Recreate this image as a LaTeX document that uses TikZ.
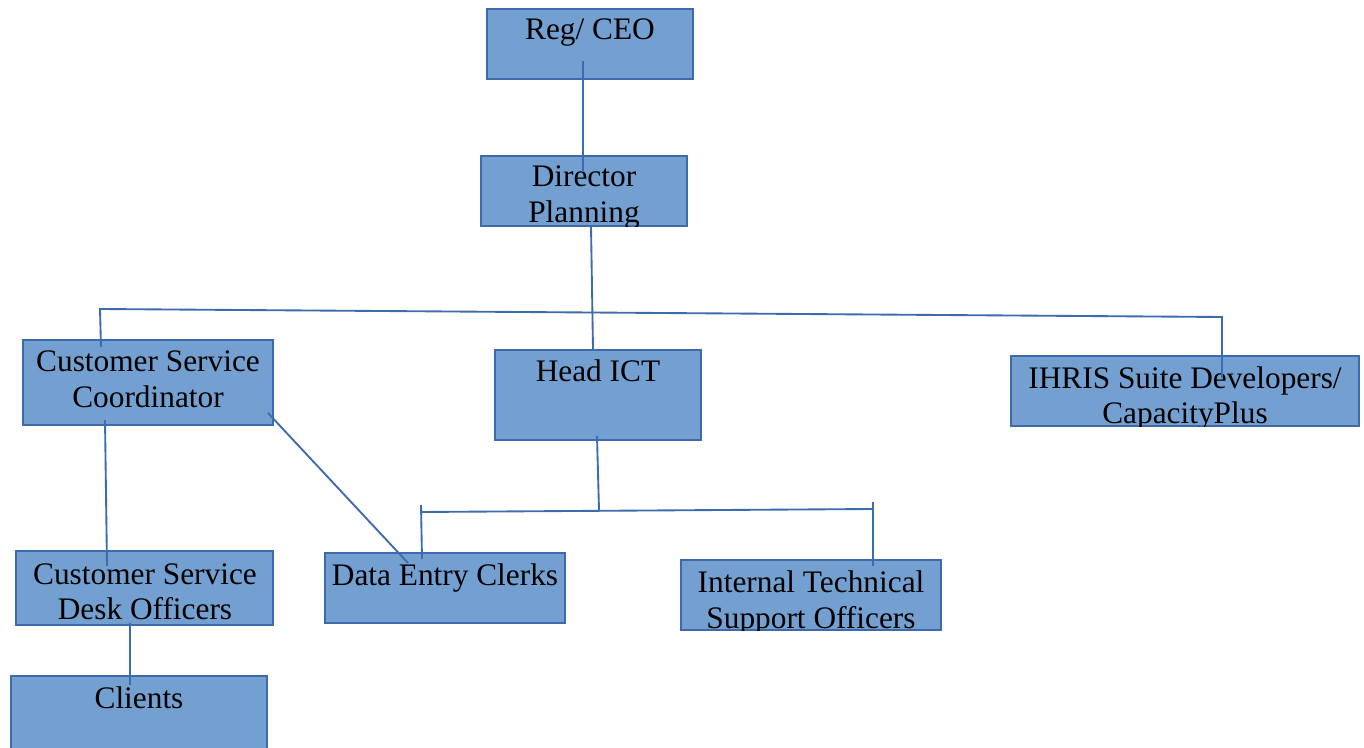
\documentclass[tikz,border=0pt]{standalone}
\usepackage{fontspec}
\setmainfont{Liberation Serif}
\usetikzlibrary{fit}
\definecolor{boxfill}{RGB}{115,160,208}
\definecolor{boxline}{RGB}{60,106,170}
\definecolor{connc}{RGB}{60,107,174}
\begin{document}
\begin{tikzpicture}[x=0.75pt,y=-0.75pt,
  box/.style={draw=boxline, fill=boxfill, line width=1.4pt, inner sep=0pt},
  lbl/.style={anchor=base, inner sep=0pt, text=black, font=\fontsize{23.5}{27}\selectfont},
  conn/.style={draw=connc, line width=1.4pt}]
\useasboundingbox (0,0) rectangle (1364,748);
\fill[white] (0,0) rectangle (1364,748);
% boxes
\node[box, fit={(487,9) (693,79)}] (ceo) {};
\node[box, fit={(481,156) (687,226)}] (dp) {};
\node[box, fit={(23,340) (273,425)}] (csc) {};
\node[box, fit={(495,350) (701,440)}] (ict) {};
\node[box, fit={(1011,356) (1359,426)}] (ihris) {};
\node[box, fit={(16,551) (273,625)}] (desk) {};
\node[box, fit={(325,553) (565,623)}] (dec) {};
\node[box, fit={(681,560) (941,630)}] (its) {};
\node[box, fit={(11,676) (267,760)}] (cli) {};
% texts
\node[lbl] (ceo-t) at (590,40) {Reg/ CEO};
\begin{scope}
  \clip (dp.south west) rectangle (dp.north east);
  \node[lbl] (dp-t1) at (584,187) {Director};
  \node[lbl] (dp-t2) at (584,223) {Planning};
\end{scope}
\node[lbl] (csc-t1) at (148,372) {Customer Service};
\node[lbl] (csc-t2) at (148,408) {Coordinator};
\node[lbl] (ict-t) at (598,382) {Head ICT};
\begin{scope}
  \clip (ihris.south west) rectangle (ihris.north east);
  \node[lbl] (ihris-t1) at (1185,389) {IHRIS Suite Developers/};
  \node[lbl] (ihris-t2) at (1185,424) {CapacityPlus};
\end{scope}
\node[lbl] (desk-t1) at (145,584) {Customer Service};
\node[lbl] (desk-t2) at (145,619) {Desk Officers};
\node[lbl] (dec-t) at (445,585) {Data Entry Clerks};
\begin{scope}
  \clip (its.south west) rectangle (its.north east);
  \node[lbl] (its-t1) at (811,592) {Internal Technical};
  \node[lbl] (its-t2) at (811,628) {Support Officers};
\end{scope}
\node[lbl] (cli-t) at (139,708) {Clients};
% connector points
\coordinate (a1) at (583,61);
\coordinate (a2) at (583,172);
\coordinate (b1) at (591,226);
\coordinate (b2) at (593,349);
\coordinate (bL) at (100,309);
\coordinate (bR) at (1222,317);
\coordinate (bLd) at (101,347);
\coordinate (bRd) at (1222,378);
\coordinate (c1) at (597,436);
\coordinate (c2) at (599,510);
\coordinate (b2L) at (421,512);
\coordinate (b2R) at (873,509);
\coordinate (dL1) at (421,505);
\coordinate (dL2) at (422,559);
\coordinate (dR1) at (873,502);
\coordinate (dR2) at (873,566);
\coordinate (e1) at (105,420);
\coordinate (e2) at (107,566);
\coordinate (f1) at (268,413);
\coordinate (f2) at (408,563);
\coordinate (g1) at (130,623);
\coordinate (g2) at (130,685);
% connectors
\draw[conn] (a1) -- (a2);
\draw[conn] (b1) -- (b2);
\draw[conn] (bLd) -- (bL) -- (bR) -- (bRd);
\draw[conn] (c1) -- (c2);
\draw[conn] (b2L) -- (b2R);
\draw[conn] (dL1) -- (dL2);
\draw[conn] (dR1) -- (dR2);
\draw[conn] (e1) -- (e2);
\draw[conn] (f1) -- (f2);
\draw[conn] (g1) -- (g2);
\end{tikzpicture}
\end{document}
